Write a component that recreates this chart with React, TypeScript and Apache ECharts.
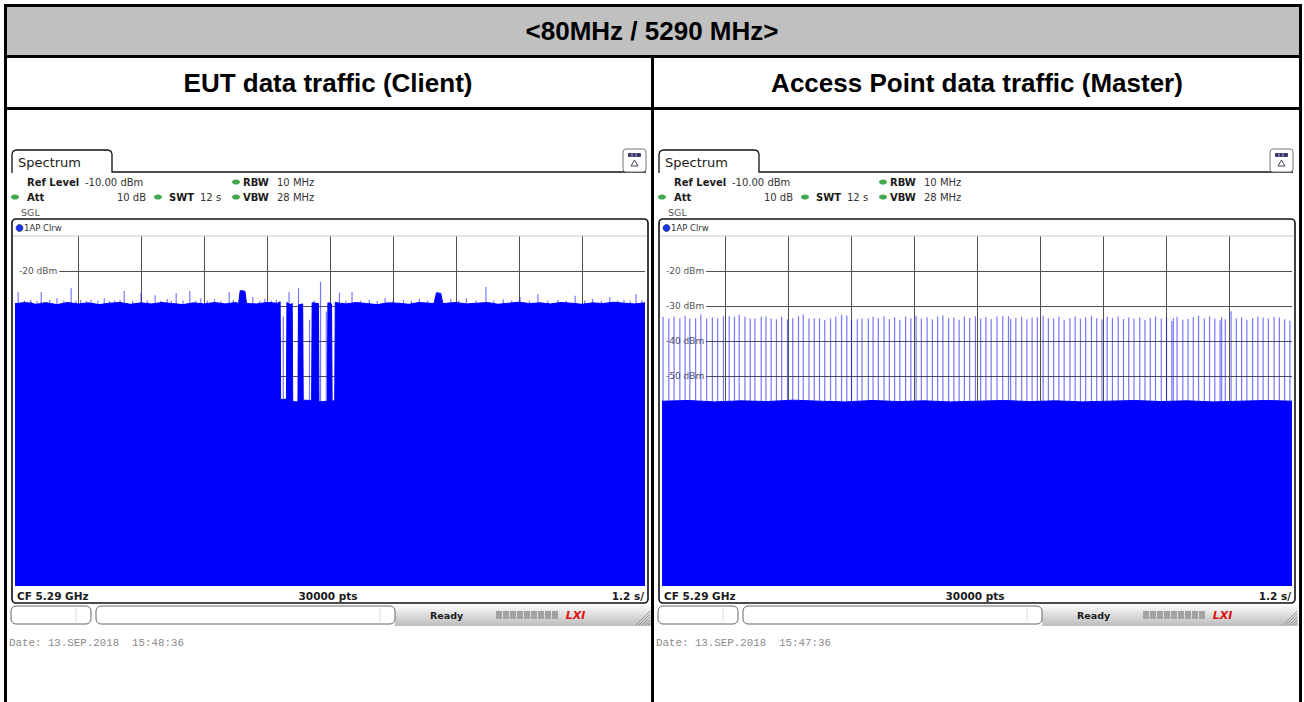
import React, { useEffect, useRef } from "react";
import * as echarts from "echarts";

// ---------- texts ----------
const MAIN_TITLE = "<80MHz / 5290 MHz>";
const PANEL_TITLES = ["EUT data traffic (Client)", "Access Point data traffic (Master)"];
const PANEL_DATES = ["Date: 13.SEP.2018  15:48:36", "Date: 13.SEP.2018  15:47:36"];

// ---------- axes ----------
const Y_MIN = -110; // dBm (bottom)
const Y_MAX = -10; // dBm (ref level)
const Y_STEP = 10;
const X_MIN = 0; // s
const X_MAX = 12; // s (SWT)
const X_STEP = 1.2; // s/div

// ---------- EUT (client) trace: [time s, level dBm] ----------
const eutTrace: number[][] = [
  [0, -29.3], [0.2, -29.0], [0.4, -29.5], [0.6, -29.1], [0.8, -29.6], [1.0, -29.0], [1.2, -29.4],
  [1.4, -29.1], [1.6, -29.6], [1.8, -29.2], [2.0, -29.0], [2.2, -29.5], [2.4, -29.1], [2.6, -29.4],
  [2.8, -29.0], [3.0, -29.3], [3.2, -29.6], [3.4, -29.1], [3.6, -29.4], [3.8, -29.0], [4.0, -29.4],
  [4.2, -29.0], [4.26, -29.3], [4.29, -25.6], [4.38, -25.8], [4.41, -29.3], [4.6, -29.4], [4.8, -29.0],
  [5.0, -29.2], [5.05, -28.8], [5.06, -56.8], [5.17, -56.6], [5.18, -29.0], [5.24, -29.6], [5.28, -29.3],
  [5.29, -57.3], [5.39, -57.4], [5.40, -29.7], [5.48, -29.4],
  [5.49, -56.9], [5.65, -57.0], [5.66, -29.1], [5.78, -29.3],
  [5.79, -57.4], [5.95, -57.2], [5.96, -29.1], [6.03, -29.4],
  [6.04, -57.2], [6.09, -57.0], [6.10, -29.0],
  [6.3, -29.4], [6.5, -29.0], [6.7, -29.3], [6.9, -29.6], [7.1, -29.1], [7.3, -29.2], [7.5, -29.5],
  [7.7, -29.0], [7.98, -29.3], [8.03, -26.2], [8.11, -26.4], [8.15, -29.3], [8.4, -29.0], [8.6, -29.4],
  [8.8, -29.2], [9.0, -29.0], [9.2, -29.5], [9.4, -29.2], [9.6, -28.9], [9.8, -29.3], [10.0, -29.1],
  [10.2, -29.4], [10.4, -29.0], [10.6, -29.2], [10.8, -29.5], [11.0, -29.1], [11.2, -29.3],
  [11.4, -28.9], [11.6, -29.2], [11.8, -29.4], [12, -29.1],
];
const eutSpikes: number[][] = [
  [0.06, -26.0], [0.18, -28.4], [0.3, -28.2], [0.42, -28.6], [0.5, -26.0], [0.66, -28.3], [0.8, -27.8],
  [0.93, -28.5], [1.07, -24.9], [1.16, -28.4], [1.25, -28.3], [1.36, -28.6], [1.45, -28.2], [1.58, -28.5],
  [1.7, -27.8], [1.8, -28.6], [1.9, -28.4], [2.0, -28.3], [2.08, -25.7], [2.24, -28.5], [2.4, -26.3],
  [2.52, -28.4], [2.67, -26.9], [2.78, -28.5], [2.9, -28.0], [2.98, -28.6], [3.07, -26.3], [3.2, -28.4],
  [3.33, -25.7], [3.44, -28.5], [3.54, -27.8], [3.66, -28.4], [3.8, -28.1], [3.92, -28.6], [4.08, -26.0],
  [4.16, -28.3], [4.53, -27.4], [4.66, -28.5], [4.76, -27.9], [4.88, -28.4], [4.98, -28.3],
  [5.11, -33.0], [5.22, -26.0], [5.40, -24.9], [5.61, -33.9], [5.70, -28.4], [5.82, -23.1], [5.93, -31.6],
  [6.0, -28.8], [6.18, -26.2], [6.3, -28.5], [6.42, -26.0], [6.58, -28.4], [6.75, -28.2], [6.9, -28.6],
  [7.05, -27.7], [7.2, -28.5], [7.4, -28.3], [7.55, -28.5], [7.7, -27.9], [7.86, -28.4], [8.3, -28.0],
  [8.45, -28.5], [8.6, -27.8], [8.78, -28.4], [8.97, -24.6], [9.12, -28.5], [9.3, -28.1], [9.46, -28.4],
  [9.62, -27.4], [9.8, -28.5], [9.96, -26.6], [10.15, -28.4], [10.34, -28.3], [10.5, -28.5],
  [10.67, -27.1], [10.85, -28.4], [11.0, -28.0], [11.17, -28.5], [11.33, -27.4], [11.48, -28.4],
  [11.6, -28.2], [11.72, -28.5], [11.83, -26.6], [11.94, -28.4],
];

// ---------- Access point (master) trace ----------
const apTrace: number[][] = [
  [0, -57.2], [0.5, -57.0], [1.0, -57.4], [1.5, -57.1], [2.0, -57.3], [2.5, -56.9], [3.0, -57.2],
  [3.5, -57.4], [4.0, -57.0], [4.5, -57.3], [5.0, -57.1], [5.5, -57.4], [6.0, -57.2], [6.5, -57.0],
  [7.0, -57.3], [7.5, -57.1], [8.0, -57.4], [8.5, -57.2], [9.0, -57.0], [9.5, -57.3], [10.0, -57.1],
  [10.5, -57.4], [11.0, -57.2], [11.5, -57.0], [12, -57.2],
];
const apSpikes: number[][] = [
  [0.02, -33.1], [0.13, -33.6], [0.23, -33.0], [0.34, -33.5], [0.44, -32.8], [0.53, -33.6], [0.64, -33.5],
  [0.74, -32.4], [0.85, -33.6], [0.96, -33.3], [1.06, -33.6], [1.17, -32.9], [1.28, -32.9], [1.38, -33.1],
  [1.47, -32.5], [1.58, -33.1], [1.68, -33.6], [1.77, -33.6], [1.89, -33.1], [1.98, -33.0], [2.08, -33.6],
  [2.18, -33.8], [2.28, -33.1], [2.39, -33.8], [2.49, -33.5], [2.60, -32.9], [2.69, -32.4], [2.80, -33.6],
  [2.90, -33.5], [3.00, -33.6], [3.10, -34.0], [3.21, -33.6], [3.31, -33.1], [3.42, -32.5], [3.52, -32.7],
  [3.61, -34.0], [3.72, -33.8], [3.81, -33.6], [3.93, -33.5], [4.02, -33.1], [4.12, -33.4], [4.23, -32.9],
  [4.33, -33.7], [4.43, -33.2], [4.53, -33.9], [4.64, -33.0], [4.74, -33.5], [4.84, -32.8], [4.94, -33.6],
  [5.05, -33.2], [5.15, -33.8], [5.25, -33.1], [5.35, -32.7], [5.46, -33.5], [5.56, -33.3], [5.66, -33.9],
  [5.76, -33.0], [5.86, -33.4], [5.97, -32.9], [6.07, -33.6], [6.17, -33.2], [6.27, -33.7], [6.38, -33.0],
  [6.49, -32.9], [6.60, -33.0], [6.64, -33.7], [6.74, -33.4], [6.85, -33.1], [6.95, -33.8], [7.05, -33.3],
  [7.15, -33.2], [7.26, -32.8], [7.36, -33.5], [7.46, -33.6], [7.56, -33.1], [7.66, -33.9], [7.77, -33.4],
  [7.87, -33.0], [7.97, -33.6], [8.07, -33.2], [8.18, -32.8], [8.28, -33.5], [8.38, -33.8], [8.48, -33.1],
  [8.58, -33.4], [8.69, -33.0], [8.79, -33.7], [8.89, -33.3], [8.99, -33.6], [9.10, -33.2], [9.20, -33.9],
  [9.30, -33.4], [9.40, -33.0], [9.51, -33.6], [9.61, -33.3], [9.71, -34.3], [9.74, -33.4], [9.81, -33.1],
  [9.92, -33.9], [10.02, -33.7], [10.12, -33.2], [10.22, -32.8], [10.33, -33.5], [10.43, -32.9],
  [10.53, -33.6], [10.63, -34.1], [10.66, -33.2], [10.73, -33.8], [10.84, -31.5], [10.94, -33.6],
  [11.04, -33.2], [11.14, -33.9], [11.25, -33.4], [11.35, -33.0], [11.45, -33.3], [11.55, -33.6],
  [11.66, -33.1], [11.76, -33.3], [11.86, -33.8], [11.96, -34.2],
];

const BLUE = "#0000ff";
const SPIKE = "rgba(30,30,255,0.6)";
const PANEL_DX = 647;
const PLOT = { left: 15, top: 236, width: 630, height: 350 };

function txt(x: number, y: number, text: string, o: any = {}) {
  const align = o.align ?? "left";
  return {
    type: "text",
    x,
    y,
    z: 20,
    silent: true,
    style: {
      text,
      fill: o.fill ?? "#1a1a1a",
      fontSize: o.size ?? 10,
      fontFamily: o.family ?? "DejaVu Sans",
      fontWeight: o.weight ?? "normal",
      fontStyle: o.fontStyle ?? "normal",
      align,
      textAlign: align,
      verticalAlign: "middle",
      textVerticalAlign: "middle",
    },
  };
}

function rect(x: number, y: number, w: number, h: number, style: any, r: number | number[] = 0, z = 20) {
  return { type: "rect", z, silent: true, shape: { x, y, width: w, height: h, r }, style };
}

function line(x1: number, y1: number, x2: number, y2: number, stroke: string, lw = 1, z = 20) {
  return { type: "line", z, silent: true, shape: { x1, y1, x2, y2 }, style: { stroke, lineWidth: lw } };
}

function dot(cx: number, cy: number) {
  return { type: "ellipse", z: 20, silent: true, shape: { cx, cy, rx: 4, ry: 2.6 }, style: { fill: "#43a84d" } };
}

function panelChrome(dx: number, date: string) {
  const els: any[] = [];
  // tab
  els.push({
    type: "polyline",
    z: 20,
    silent: true,
    shape: {
      points: [
        [12 + dx, 173], [12 + dx, 154], [13 + dx, 151.3], [16 + dx, 150], [108 + dx, 150],
        [111 + dx, 151.3], [112 + dx, 154], [112 + dx, 172], [646 + dx, 172],
      ],
    },
    style: { stroke: "#111", lineWidth: 1.3, fill: null },
  });
  els.push(txt(18 + dx, 162, "Spectrum", { size: 13 }));
  // icon
  els.push(rect(623 + dx, 149, 23, 23, { fill: "#fff", stroke: "#777", lineWidth: 1 }, 3));
  els.push(rect(628 + dx, 153, 13, 4, { fill: "#3a3a6a" }, 1));
  els.push(line(632 + dx, 153, 632 + dx, 157, "#c8c8e0", 0.8));
  els.push(line(636 + dx, 153, 636 + dx, 157, "#c8c8e0", 0.8));
  els.push({
    type: "polygon",
    z: 20,
    silent: true,
    shape: { points: [[634.5 + dx, 160], [631 + dx, 166], [638 + dx, 166]] },
    style: { fill: null, stroke: "#445", lineWidth: 1 },
  });
  // info rows
  els.push(txt(27 + dx, 182, "Ref Level", { weight: "bold" }));
  els.push(txt(85 + dx, 182, "-10.00 dBm", { fill: "#333" }));
  els.push(dot(236 + dx, 182));
  els.push(txt(243 + dx, 182, "RBW", { weight: "bold" }));
  els.push(txt(277 + dx, 182, "10 MHz", { fill: "#333" }));
  els.push(dot(15 + dx, 197));
  els.push(txt(27 + dx, 197, "Att", { weight: "bold" }));
  els.push(txt(146 + dx, 197, "10 dB", { align: "right", fill: "#333" }));
  els.push(dot(158 + dx, 197));
  els.push(txt(169 + dx, 197, "SWT", { weight: "bold" }));
  els.push(txt(200 + dx, 197, "12 s", { fill: "#333" }));
  els.push(dot(236 + dx, 197));
  els.push(txt(243 + dx, 197, "VBW", { weight: "bold" }));
  els.push(txt(277 + dx, 197, "28 MHz", { fill: "#333" }));
  els.push(txt(21 + dx, 212, "SGL", { fill: "#555", size: 9.5 }));
  // trace window
  els.push(line(13 + dx, 236, 647 + dx, 236, "#c8c8c8", 1));
  els.push(rect(12 + dx, 219, 636, 384, { fill: null, stroke: "#111", lineWidth: 1.6 }, 4, 25));
  els.push({ type: "circle", z: 20, silent: true, shape: { cx: 19.5 + dx, cy: 228, r: 3.5 }, style: { fill: "#1636ff", stroke: "#223", lineWidth: 0.6 } });
  els.push(txt(24 + dx, 228, "1AP Clrw", { size: 8.5, fill: "#333" }));
  els.push(txt(17 + dx, 596, "CF 5.29 GHz", { weight: "bold", size: 10.5 }));
  els.push(txt(328 + dx, 596, "30000 pts", { weight: "bold", size: 10.5, align: "center" }));
  els.push(txt(644 + dx, 596, "1.2 s/", { weight: "bold", size: 10.5, align: "right" }));
  // status bar
  els.push(
    rect(395 + dx, 605, 256, 21, {
      fill: new echarts.graphic.LinearGradient(0, 0, 0, 1, [
        { offset: 0, color: "#fbfbfb" },
        { offset: 1, color: "#bcbcbc" },
      ]),
    })
  );
  els.push(rect(11 + dx, 606, 80, 18, { fill: "#fff", stroke: "#666", lineWidth: 1 }, 5));
  els.push(line(76 + dx, 608, 76 + dx, 622, "#ddd", 1));
  els.push(rect(96 + dx, 606, 299, 18, { fill: "#fff", stroke: "#666", lineWidth: 1 }, 5));
  els.push(line(380 + dx, 608, 380 + dx, 622, "#ddd", 1));
  els.push(txt(430 + dx, 615, "Ready", { weight: "bold", size: 9.5 }));
  for (let i = 0; i < 9; i++) {
    els.push(rect(496 + dx + i * 7, 611, 6, 8, { fill: "#a2a2a2" }, 0));
  }
  els.push(txt(575.5 + dx, 615, "LXI", { weight: "bold", size: 11, fill: "#e01010", align: "center", fontStyle: "italic" }));
  for (let i = 0; i < 5; i++) {
    els.push(line(636 + dx + i * 3, 625, 650 + dx, 611 + i * 3, "#8a8a8a", 0.8));
  }
  els.push(txt(9 + dx, 643, date, { family: "Liberation Mono", size: 10.8, fill: "#8a8a8a" }));
  return els;
}

function tableChrome() {
  const els: any[] = [];
  els.push(rect(7, 7, 1292, 48, { fill: "#c0c0c0" }, 0, 30));
  els.push(rect(4, 4, 1298, 3, { fill: "#000" }, 0, 31));
  els.push(rect(4, 4, 3, 698, { fill: "#000" }, 0, 31));
  els.push(rect(1299, 4, 3, 698, { fill: "#000" }, 0, 31));
  els.push(rect(7, 55, 1292, 3, { fill: "#000" }, 0, 31));
  els.push(rect(7, 107, 1292, 3, { fill: "#000" }, 0, 31));
  els.push(rect(651, 58, 3, 644, { fill: "#000" }, 0, 31));
  const t = (x: number, y: number, s: string) => ({
    ...txt(x, y, s, { family: "Liberation Sans", weight: "bold", size: 26, fill: "#000", align: "center" }),
    z: 32,
  });
  els.push(t(652, 31, MAIN_TITLE));
  els.push(t(328, 83, PANEL_TITLES[0]));
  els.push(t(977, 83, PANEL_TITLES[1]));
  return els;
}

function spikeRender(_params: any, api: any) {
  const t = api.value(0);
  const v = api.value(1);
  const p1 = api.coord([t, v]);
  const p0 = api.coord([t, Y_MIN]);
  return {
    type: "line",
    shape: { x1: p0[0], y1: p0[1], x2: p1[0], y2: p1[1] },
    style: { stroke: SPIKE, lineWidth: 1.2 },
  };
}

function buildOption() {
  const grids = [0, 1].map((i) => ({
    left: PLOT.left + i * PANEL_DX,
    top: PLOT.top,
    width: PLOT.width,
    height: PLOT.height,
    containLabel: false,
  }));
  const xAxes = [0, 1].map((i) => ({
    type: "value",
    gridIndex: i,
    min: X_MIN,
    max: X_MAX,
    interval: X_STEP,
    axisLine: { show: false },
    axisTick: { show: false },
    axisLabel: { show: false },
    splitLine: { show: true, showMinLine: false, showMaxLine: false, lineStyle: { color: "#505050", width: 1 } },
  }));
  const yAxes: any[] = [];
  [0, 1].forEach((i) => {
    yAxes.push({
      type: "value",
      gridIndex: i,
      position: "left",
      min: Y_MIN,
      max: Y_MAX,
      interval: Y_STEP,
      z: 0,
      axisLine: { show: false },
      axisTick: { show: false },
      axisLabel: { show: false },
      splitLine: { show: true, showMinLine: false, showMaxLine: false, lineStyle: { color: "#505050", width: 1 } },
    });
    yAxes.push({
      type: "value",
      gridIndex: i,
      position: "left",
      min: Y_MIN,
      max: Y_MAX,
      interval: Y_STEP,
      z: 1,
      axisLine: { show: false },
      axisTick: { show: false },
      splitLine: { show: false },
      axisLabel: {
        show: true,
        inside: true,
        margin: 0,
        showMinLabel: false,
        showMaxLabel: false,
        color: "#555",
        fontSize: 9,
        fontFamily: "DejaVu Sans",
        backgroundColor: "#fff",
        padding: [0, 2, 0, 4],
        formatter: (v: number) => (v > Y_MIN && v < Y_MAX ? `${v} dBm` : ""),
      },
    });
  });
  const area = (data: number[][], i: number) => ({
    type: "line",
    xAxisIndex: i,
    yAxisIndex: i * 2,
    data,
    symbol: "none",
    showSymbol: false,
    z: 4,
    lineStyle: { color: BLUE, width: 1 },
    areaStyle: { color: BLUE, opacity: 1, origin: "start" },
    clip: true,
    silent: true,
  });
  const spikes = (data: number[][], i: number) => ({
    type: "custom",
    xAxisIndex: i,
    yAxisIndex: i * 2,
    data,
    z: 3,
    clip: true,
    silent: true,
    renderItem: spikeRender,
  });
  return {
    animation: false,
    backgroundColor: "#fff",
    grid: grids,
    xAxis: xAxes,
    yAxis: yAxes,
    series: [spikes(eutSpikes, 0), area(eutTrace, 0), spikes(apSpikes, 1), area(apTrace, 1)],
    graphic: {
      elements: [...panelChrome(0, PANEL_DATES[0]), ...panelChrome(PANEL_DX, PANEL_DATES[1]), ...tableChrome()],
    },
  };
}

export default function App() {
  const ref = useRef<HTMLDivElement>(null);
  useEffect(() => {
    const chart = echarts.init(ref.current!, null, { renderer: "svg", width: 1304, height: 702 });
    chart.setOption(buildOption() as any);
    return () => chart.dispose();
  }, []);
  return (
    <div
      ref={ref}
      style={{ position: "fixed", left: 0, top: 0, width: 1304, height: 702, background: "#fff" }}
    />
  );
}
